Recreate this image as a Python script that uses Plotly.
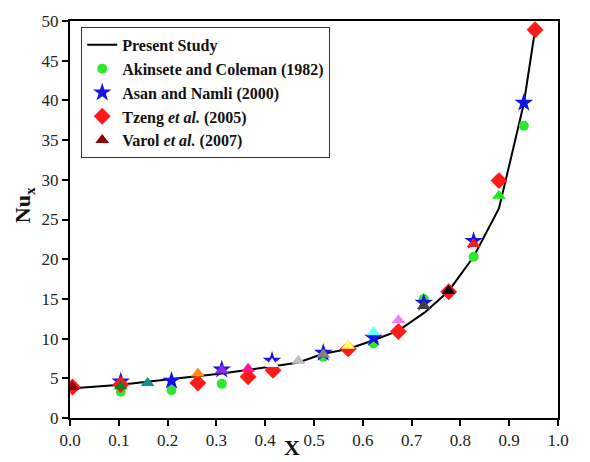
import plotly.graph_objects as go

# ---- data (x against the drawn axis) ----
line_x = [0.0, 0.104, 0.208, 0.311, 0.414, 0.468, 0.519, 0.570, 0.622, 0.673,
          0.727, 0.776, 0.827, 0.879, 0.905, 0.930, 0.953]
line_y = [3.7, 4.2, 4.9, 5.6, 6.5, 7.0, 8.1, 8.7, 9.8, 11.0,
          13.3, 16.0, 20.3, 26.4, 33.1, 39.6, 48.9]

ak_x = [0.104, 0.208, 0.311, 0.519, 0.622, 0.725, 0.827, 0.930]
ak_y = [3.3, 3.5, 4.3, 7.7, 9.4, 15.0, 20.3, 36.8]

as_x = [0.104, 0.208, 0.311, 0.414, 0.519, 0.622, 0.725, 0.827, 0.930]
as_y = [4.6, 4.7, 6.1, 7.2, 8.2, 10.1, 14.5, 22.3, 39.7]

tz_x = [0.005, 0.104, 0.262, 0.365, 0.416, 0.570, 0.673, 0.776, 0.879, 0.953]
tz_y = [3.9, 4.2, 4.4, 5.2, 6.0, 8.7, 10.9, 15.9, 29.9, 48.9]

va_x = [0.005, 0.104, 0.159, 0.262, 0.311, 0.365, 0.414, 0.468, 0.519, 0.570,
        0.622, 0.673, 0.725, 0.776, 0.827, 0.879]
va_y = [3.9, 4.0, 4.4, 5.6, 6.0, 6.2, 6.8, 7.2, 8.0, 9.1,
        10.8, 12.3, 14.1, 16.0, 21.9, 28.0]
va_colors = ["#8b0000", "#1e7b1e", "#1a8c8c", "#ff8c1a", "#8a2be2", "#ff1493",
             "#ffffff", "#c0c0c0", "#808080", "#ffff66", "#66ffff", "#ee82ee",
             "#404040", "#000000", "#ff1a1a", "#1aee1a"]

x_ticks = [0.0, 0.1, 0.2, 0.3, 0.4, 0.5, 0.6, 0.7, 0.8, 0.9, 1.0]
y_ticks = [0, 5, 10, 15, 20, 25, 30, 35, 40, 45, 50]

FONT = "Liberation Serif"

fig = go.Figure()
fig.add_trace(go.Scatter(x=line_x, y=line_y, mode="lines",
                         line=dict(color="black", width=2),
                         name="<b>Present Study</b>"))
fig.add_trace(go.Scatter(x=ak_x, y=ak_y, mode="markers",
                         marker=dict(symbol="circle", size=10, color="#2ee82e"),
                         name="<b>Akinsete and Coleman (1982)</b>"))
fig.add_trace(go.Scatter(x=as_x, y=as_y, mode="markers",
                         marker=dict(symbol="star", size=14, color="#1414e6"),
                         name="<b>Asan and Namli (2000)</b>"))
fig.add_trace(go.Scatter(x=tz_x, y=tz_y, mode="markers",
                         marker=dict(symbol="diamond", size=13, color="#ff1a1a"),
                         name="<b>Tzeng <i>et al.</i> (2005)</b>"))
fig.add_trace(go.Scatter(x=va_x, y=va_y, mode="markers",
                         marker=dict(symbol="triangle-up", size=12, color=va_colors),
                         name="<b>Varol <i>et al.</i> (2007)</b>"))

axis_common = dict(showline=True, linecolor="black", linewidth=2, mirror=True,
                   ticks="outside", ticklen=6, tickwidth=2, tickcolor="black",
                   showgrid=False, zeroline=False,
                   tickfont=dict(family=FONT, size=17, color="#222"))

fig.update_xaxes(range=[0, 1], tickvals=x_ticks, tickformat=".1f", **axis_common)
fig.update_yaxes(range=[0, 50], tickvals=y_ticks, **axis_common)

fig.add_annotation(text="<b>X</b>", xref="paper", yref="paper", x=0.455, y=-0.075,
                   showarrow=False, font=dict(family=FONT, size=22, color="#111"),
                   xanchor="center", yanchor="middle")
fig.add_annotation(text="<b>Nu<sub>x</sub></b>", xref="paper", yref="paper",
                   x=-0.095, y=0.535, textangle=-90, showarrow=False,
                   font=dict(family=FONT, size=22, color="#111"),
                   xanchor="center", yanchor="middle")

fig.update_layout(
    width=590, height=462,
    margin=dict(l=70, r=32, t=16, b=41),
    paper_bgcolor="white", plot_bgcolor="white",
    legend=dict(x=0.023, y=0.985, xanchor="left", yanchor="top",
                bgcolor="white", bordercolor="#333", borderwidth=1,
                font=dict(family=FONT, size=16, color="#111"),
                itemwidth=30),
    showlegend=True,
)

fig.write_html("out.html")
